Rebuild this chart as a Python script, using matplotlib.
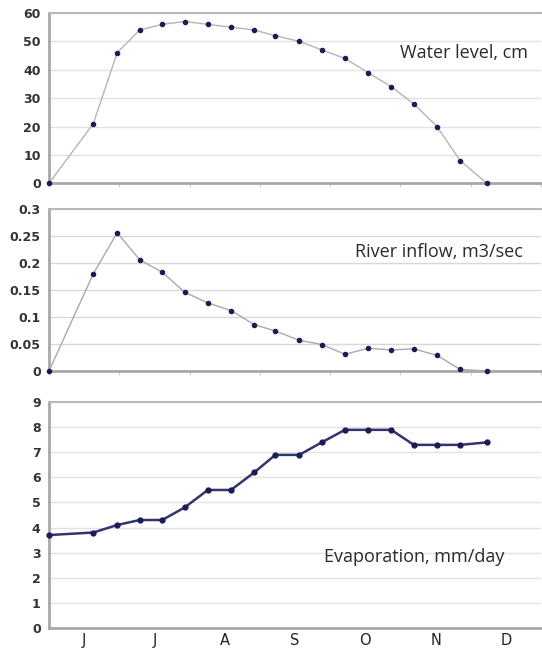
import numpy as np
import matplotlib.pyplot as plt

# x positions in months from start of June (one point about every 10 days)
x = [0, 0.63, 0.97, 1.29, 1.61, 1.93, 2.26, 2.59, 2.92, 3.22, 3.56,
     3.88, 4.21, 4.54, 4.87, 5.19, 5.52, 5.85, 6.23]

water_level = [0, 21, 46, 54, 56, 57, 56, 55, 54, 52, 50,
               47, 44, 39, 34, 28, 20, 8, 0]
river_inflow = [0, 0.18, 0.256, 0.206, 0.183, 0.146, 0.126, 0.112, 0.086,
                0.074, 0.057, 0.049, 0.031, 0.042, 0.039, 0.041, 0.029,
                0.003, 0.0]
evaporation = [3.7, 3.8, 4.1, 4.3, 4.3, 4.8, 5.5, 5.5, 6.2, 6.9, 6.9,
               7.4, 7.9, 7.9, 7.9, 7.3, 7.3, 7.3, 7.4]

months = ['J', 'J', 'A', 'S', 'O', 'N', 'D']

plt.rcParams['font.family'] = ['DejaVu Sans']

W, H = 542, 649
fig = plt.figure(figsize=(W / 100, H / 100), dpi=100)

def box(left, top, right, bottom):
    return [left / W, 1 - bottom / H, (right - left) / W, (bottom - top) / H]

ax1 = fig.add_axes(box(49, 13, 541, 183.3))
ax2 = fig.add_axes(box(49, 209, 541, 371))
ax3 = fig.add_axes(box(49, 402.3, 541, 627.7))

spine_col = '#a8a8a8'
grid_col = '#e2e2e2'
dot_col = '#1c1c55'

def style(ax, yticks, ylabels, grid_c=grid_col):
    ax.set_xlim(0, 7)
    ax.set_ylim(yticks[0], yticks[-1])
    ax.set_yticks(yticks)
    ax.set_yticklabels(ylabels)
    ax.yaxis.grid(True, color=grid_c, lw=1)
    ax.set_axisbelow(True)
    for s in ['left', 'bottom']:
        ax.spines[s].set_color(spine_col)
        ax.spines[s].set_linewidth(2)
    ax.spines['top'].set_color('#b8b8b8')
    ax.spines['top'].set_linewidth(1.5)
    ax.spines['right'].set_visible(False)
    ax.tick_params(axis='y', length=0, pad=6, labelsize=9,
                   labelcolor='#333333')
    for t in ax.get_yticklabels():
        t.set_fontweight('bold')
    ax.set_xticks(range(8))
    ax.tick_params(axis='x', which='major', length=3, color='#d0d0d0',
                   labelbottom=False)

style(ax1, list(range(0, 61, 10)), [str(v) for v in range(0, 61, 10)])
style(ax2, [0, 0.05, 0.1, 0.15, 0.2, 0.25, 0.3],
      ['0', '0.05', '0.1', '0.15', '0.2', '0.25', '0.3'], grid_c='#d8d8d8')
style(ax3, list(range(0, 10)), [str(v) for v in range(0, 10)])

ax1.plot(x, water_level, color='#b4b4bc', lw=1, marker='o', ms=3,
         mfc=dot_col, mec=dot_col, clip_on=False, zorder=5)
ax2.plot(x, river_inflow, color='#a8a8b4', lw=1, marker='o', ms=3,
         mfc=dot_col, mec=dot_col, clip_on=False, zorder=5)
ax3.plot(x, evaporation, color='#34346e', lw=1.8, marker='o', ms=3.5,
         mfc=dot_col, mec=dot_col, clip_on=False, zorder=5)

ax3.tick_params(axis='x', which='major', length=0)
ax3.set_xticks(np.arange(0.5, 7, 1), minor=True)
ax3.set_xticklabels(months, minor=True)
ax3.tick_params(axis='x', which='minor', length=0, pad=4, labelsize=10.5,
                labelcolor='#222222')

label_kw = dict(ha='center', va='center', fontsize=13, color='#2a2a2a',
                family=['Open Sans', 'DejaVu Sans'])
ax1.text((464 - 49) / 70.29, 60 * (183.3 - 53) / 170.3, 'Water level, cm',
         **label_kw)
ax2.text((439 - 49) / 70.29, 0.3 * (371 - 252) / 162, 'River inflow, m3/sec',
         **label_kw)
ax3.text((414 - 49) / 70.29, 9 * (627.7 - 557) / 225.4, 'Evaporation, mm/day',
         **label_kw)

fig.savefig('out.png', dpi=100)
